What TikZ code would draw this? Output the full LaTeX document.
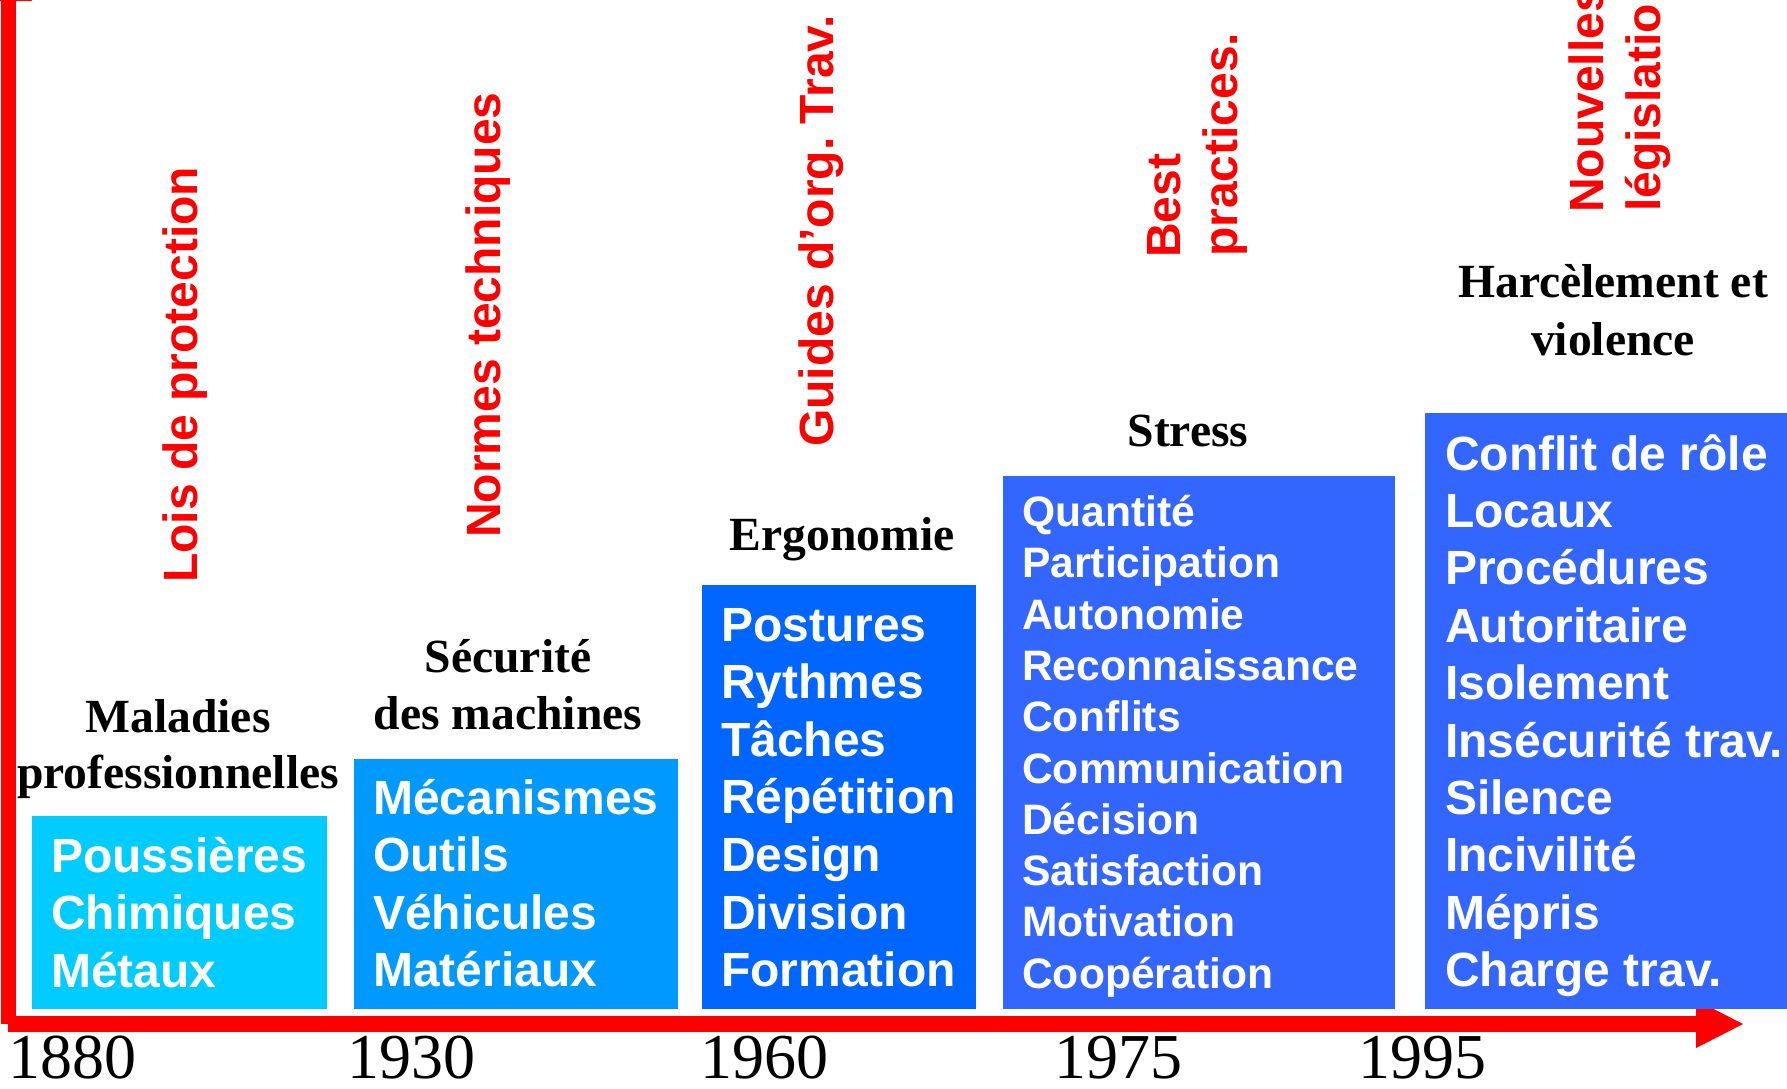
\documentclass[tikz,border=0pt]{standalone}
\usepackage{fontspec}
\newfontfamily\asans{Liberation Sans}
\newfontfamily\tnr{Liberation Serif}
\definecolor{cA}{HTML}{00CCFF}
\definecolor{cB}{HTML}{0099FF}
\definecolor{cC}{HTML}{0066FF}
\definecolor{cD}{HTML}{3366FF}
\definecolor{axred}{HTML}{FF0000}
\begin{document}
\frenchspacing
\begin{tikzpicture}[x=1pt,y=-1pt,
  box/.style={draw=none, inner sep=0pt, outer sep=0pt, anchor=north west},
  itemtxt/.style={text=white, font=\asans\bfseries\fontsize{48}{57}\selectfont, anchor=base west, inner sep=0pt},
  smalltxt/.style={text=white, font=\asans\bfseries\fontsize{42.6}{51}\selectfont, anchor=base west, inner sep=0pt},
  redtxt/.style={text=axred, font=\asans\bfseries\fontsize{48}{57}\selectfont, anchor=base west, inner sep=0pt, rotate=90},
  headtxt/.style={text=black, font=\tnr\bfseries\fontsize{47.6}{57}\selectfont, anchor=base, inner sep=0pt},
  yeartxt/.style={text=black, font=\tnr\fontsize{64}{64}\selectfont, anchor=base west, inner sep=0pt}]
\useasboundingbox (0,0) rectangle (1787,1088);
\clip (0,0) rectangle (1787,1088);

% axes
\coordinate (o) at (8,1024);
\coordinate (xend) at (1697,1024);
\coordinate (yend) at (8,1);
\draw[axred, line width=16pt] (o) -- (xend);
\fill[axred] (1696,1000) -- (1743,1024) -- (1696,1048) -- cycle;
\draw[axred, line width=15pt] (o) -- (yend);
\fill[axred] (-16,1) -- (8,-46) -- (32,1) -- cycle;

% boxes
\node[box, fill=cA, minimum width=295pt, minimum height=192.5pt] (box1) at (32,816) {};
\node[box, fill=cB, minimum width=324pt, minimum height=249.5pt] (box2) at (354,759) {};
\node[box, fill=cC, minimum width=274pt, minimum height=423.5pt] (box3) at (702,585) {};
\node[box, fill=cD, minimum width=392pt, minimum height=532.5pt] (box4) at (1003,476) {};
\node[box, fill=cD, minimum width=370pt, minimum height=595.5pt] (box5) at (1425,413) {};

% box texts
\foreach \t [count=\i] in {Poussières,Chimiques,Métaux}
  \node[itemtxt] (ba\i) at (51,{872+57.5*(\i-1)}) {\t};
\foreach \t [count=\i] in {Mécanismes,Outils,Véhicules,Matériaux}
  \node[itemtxt] (bb\i) at (373,{814+57.6*(\i-1)}) {\t};
\foreach \t [count=\i] in {Postures,Rythmes,Tâches,Répétition,Design,Division,Formation}
  \node[itemtxt] (bc\i) at (721,{641+57.6*(\i-1)}) {\t};
\foreach \t [count=\i] in {Quantité,Participation,Autonomie,Reconnaissance,Conflits,Communication,Décision,Satisfaction,Motivation,Coopération}
  \node[smalltxt] (bd\i) at (1022,{526.5+51.3*(\i-1)}) {\t};
\foreach \t [count=\i] in {Conflit de rôle,Locaux,Procédures,Autoritaire,Isolement,Insécurité trav.,Silence,Incivilité,Mépris,Charge trav.}
  \node[itemtxt] (be\i) at (1445,{470+57.4*(\i-1)}) {\t};

% headers
\node[headtxt] (h1a) at (178,732) {Maladies};
\node[headtxt] (h1b) at (178,788) {professionnelles};
\node[headtxt] (h2a) at (508,672) {Sécurité};
\node[headtxt] (h2b) at (508,729) {des machines};
\node[headtxt] (h3) at (842,550) {Ergonomie};
\node[headtxt] (h4) at (1188,446) {Stress};
\node[headtxt] (h5a) at (1613,297) {Harcèlement et};
\node[headtxt] (h5b) at (1613,355) {violence};

% red vertical labels
\node[redtxt] (r1) at (197,583) {Lois de protection};
\node[redtxt] (r2) at (500,538) {Normes techniques};
\node[redtxt] (r3) at (833,447) {Guides d’org. Trav.};
\node[redtxt] (r4a) at (1180,258) {Best};
\node[redtxt] (r4b) at (1237,257) {practices.};
\node[redtxt] (r5a) at (1603,213) {Nouvelles};
\node[redtxt] (r5b) at (1660,212) {législation};

% years
\node[yeartxt] (y1) at (8,1078) {1880};
\node[yeartxt] (y2) at (347,1078) {1930};
\node[yeartxt] (y3) at (700,1078) {1960};
\node[yeartxt] (y4) at (1054,1078) {1975};
\node[yeartxt] (y5) at (1358,1078) {1995};
\end{tikzpicture}
\end{document}
